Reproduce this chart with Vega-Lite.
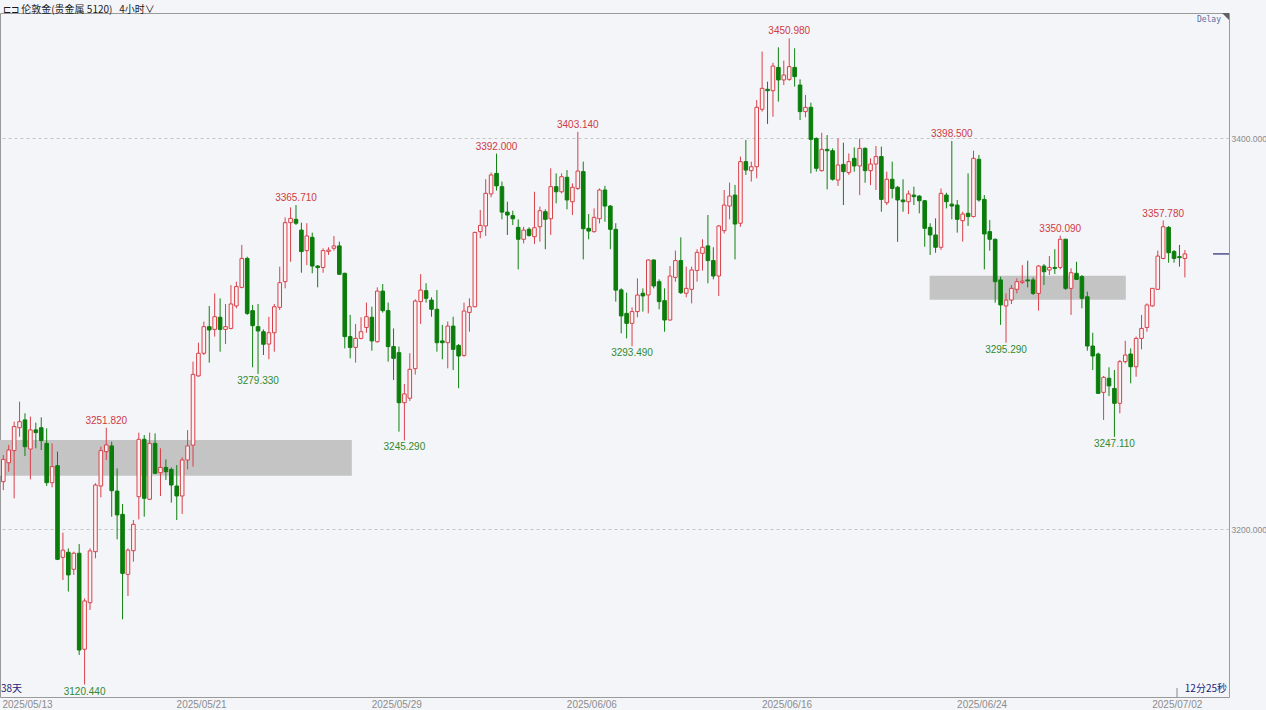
{
  "$schema": "https://vega.github.io/schema/vega-lite/v6.json",
  "width": 1229,
  "height": 684,
  "autosize": {"type": "none"},
  "padding": {"left": 0, "top": 13, "right": 37, "bottom": 13},
  "background": "#f4f5f9",
  "config": {
    "view": {"stroke": "#9a9a9a", "strokeWidth": 1, "fill": "#f4f5f9"},
    "font": "Liberation Sans"
  },
  "title": {
    "text": "⊏⊐ 伦敦金(贵金属 5120)\u00a0\u00a0\u00a04小时∨",
    "anchor": "start",
    "frame": "group",
    "orient": "top",
    "offset": 0,
    "dx": 3,
    "dy": 1.5,
    "font": "Noto Sans CJK SC",
    "fontSize": 10,
    "fontWeight": "normal",
    "color": "#1a1a1a"
  },
  "datasets": {
    "zones": [
      {"x1": -0.609, "x2": 64.3, "top": 3245.5, "bot": 3227.3},
      {"x1": 170.9, "x2": 207.1, "top": 3329.5, "bot": 3317.3}
    ],
    "k": [
      {"i":0,"o":3224.2,"h":3237.8,"l":3219.9,"c":3235.6},
      {"i":1,"o":3233.9,"h":3243.0,"l":3229.3,"c":3240.4},
      {"i":2,"o":3240.1,"h":3254.9,"l":3215.7,"c":3252.4},
      {"i":3,"o":3251.8,"h":3265.1,"l":3247.2,"c":3254.9},
      {"i":4,"o":3255.8,"h":3259.2,"l":3237.3,"c":3242.1},
      {"i":5,"o":3240.9,"h":3257.5,"l":3225.4,"c":3250.7},
      {"i":6,"o":3250.7,"h":3254.4,"l":3241.3,"c":3249.3},
      {"i":7,"o":3251.8,"h":3257.1,"l":3240.4,"c":3245.2},
      {"i":8,"o":3243.8,"h":3251.5,"l":3222.0,"c":3223.7},
      {"i":9,"o":3223.7,"h":3243.8,"l":3221.3,"c":3231.9},
      {"i":10,"o":3232.4,"h":3239.6,"l":3184.1,"c":3184.5},
      {"i":11,"o":3185.5,"h":3198.1,"l":3173.9,"c":3189.2},
      {"i":12,"o":3188.1,"h":3190.1,"l":3168.0,"c":3176.5},
      {"i":13,"o":3179.4,"h":3188.4,"l":3176.5,"c":3187.6},
      {"i":14,"o":3187.6,"h":3192.3,"l":3135.6,"c":3138.1},
      {"i":15,"o":3138.5,"h":3164.5,"l":3120.44,"c":3163.2,"pk":"l"},
      {"i":16,"o":3162.3,"h":3190.1,"l":3158.6,"c":3188.8},
      {"i":17,"o":3188.4,"h":3223.4,"l":3185.0,"c":3222.5},
      {"i":18,"o":3222.0,"h":3242.1,"l":3216.2,"c":3240.1},
      {"i":19,"o":3239.6,"h":3251.82,"l":3235.3,"c":3243.0,"pk":"h"},
      {"i":20,"o":3242.5,"h":3244.7,"l":3206.3,"c":3219.6},
      {"i":21,"o":3219.4,"h":3231.0,"l":3194.7,"c":3207.2},
      {"i":22,"o":3207.5,"h":3212.8,"l":3153.8,"c":3177.3},
      {"i":23,"o":3176.8,"h":3190.1,"l":3165.7,"c":3189.2},
      {"i":24,"o":3188.9,"h":3204.6,"l":3183.3,"c":3202.4},
      {"i":25,"o":3216.5,"h":3249.3,"l":3204.9,"c":3245.9},
      {"i":26,"o":3245.9,"h":3248.1,"l":3206.3,"c":3215.7},
      {"i":27,"o":3215.2,"h":3249.3,"l":3214.8,"c":3243.8},
      {"i":28,"o":3243.8,"h":3248.9,"l":3228.1,"c":3228.5},
      {"i":29,"o":3228.8,"h":3241.3,"l":3216.9,"c":3231.5},
      {"i":30,"o":3231.5,"h":3235.6,"l":3225.1,"c":3229.3},
      {"i":31,"o":3230.5,"h":3231.5,"l":3213.5,"c":3222.5},
      {"i":32,"o":3222.0,"h":3232.7,"l":3204.6,"c":3216.9},
      {"i":33,"o":3216.9,"h":3236.7,"l":3207.7,"c":3235.3},
      {"i":34,"o":3235.3,"h":3250.6,"l":3230.5,"c":3242.5},
      {"i":35,"o":3242.9,"h":3285.6,"l":3231.9,"c":3279.1},
      {"i":36,"o":3278.3,"h":3295.3,"l":3277.9,"c":3289.9},
      {"i":37,"o":3289.9,"h":3306.1,"l":3289.0,"c":3303.5},
      {"i":38,"o":3303.5,"h":3314.1,"l":3285.1,"c":3301.8},
      {"i":39,"o":3302.1,"h":3320.5,"l":3298.4,"c":3308.6},
      {"i":40,"o":3308.3,"h":3318.0,"l":3290.7,"c":3302.1},
      {"i":41,"o":3302.1,"h":3315.1,"l":3294.6,"c":3303.5},
      {"i":42,"o":3302.6,"h":3324.8,"l":3302.1,"c":3315.1},
      {"i":43,"o":3314.1,"h":3326.5,"l":3312.9,"c":3324.0},
      {"i":44,"o":3323.6,"h":3345.3,"l":3323.1,"c":3338.4},
      {"i":45,"o":3338.4,"h":3339.3,"l":3309.5,"c":3310.3},
      {"i":46,"o":3311.7,"h":3314.6,"l":3282.7,"c":3304.0},
      {"i":47,"o":3303.5,"h":3315.1,"l":3279.33,"c":3301.3,"pk":"l"},
      {"i":48,"o":3300.9,"h":3302.1,"l":3289.0,"c":3294.5},
      {"i":49,"o":3294.6,"h":3308.6,"l":3286.8,"c":3300.4},
      {"i":50,"o":3300.4,"h":3315.1,"l":3290.7,"c":3313.7},
      {"i":51,"o":3313.4,"h":3334.2,"l":3312.0,"c":3326.0},
      {"i":52,"o":3326.5,"h":3359.4,"l":3323.1,"c":3356.7},
      {"i":53,"o":3356.7,"h":3364.5,"l":3336.7,"c":3358.9},
      {"i":54,"o":3358.4,"h":3365.71,"l":3355.5,"c":3356.4,"pk":"h"},
      {"i":55,"o":3352.9,"h":3356.7,"l":3331.1,"c":3341.9},
      {"i":56,"o":3342.4,"h":3356.4,"l":3335.0,"c":3349.9},
      {"i":57,"o":3349.2,"h":3351.6,"l":3330.8,"c":3334.5},
      {"i":58,"o":3334.5,"h":3335.0,"l":3323.6,"c":3333.7},
      {"i":59,"o":3333.8,"h":3343.6,"l":3331.1,"c":3342.4},
      {"i":60,"o":3342.0,"h":3344.1,"l":3340.2,"c":3342.7},
      {"i":61,"o":3343.6,"h":3349.9,"l":3342.4,"c":3344.8},
      {"i":62,"o":3344.8,"h":3347.0,"l":3329.9,"c":3330.3},
      {"i":63,"o":3330.8,"h":3331.1,"l":3292.4,"c":3298.4},
      {"i":64,"o":3298.4,"h":3309.5,"l":3287.3,"c":3292.9},
      {"i":65,"o":3292.9,"h":3304.9,"l":3285.1,"c":3297.5},
      {"i":66,"o":3297.5,"h":3308.3,"l":3297.0,"c":3300.9},
      {"i":67,"o":3303.1,"h":3315.8,"l":3300.4,"c":3308.6},
      {"i":68,"o":3308.3,"h":3313.7,"l":3291.2,"c":3296.2},
      {"i":69,"o":3295.8,"h":3323.6,"l":3295.3,"c":3321.7},
      {"i":70,"o":3321.7,"h":3325.3,"l":3310.7,"c":3311.7},
      {"i":71,"o":3311.7,"h":3315.8,"l":3285.6,"c":3293.3},
      {"i":72,"o":3293.3,"h":3302.6,"l":3276.2,"c":3287.3},
      {"i":73,"o":3290.2,"h":3293.3,"l":3249.8,"c":3264.6},
      {"i":74,"o":3264.6,"h":3274.2,"l":3245.29,"c":3269.1,"pk":"l"},
      {"i":75,"o":3266.9,"h":3289.9,"l":3265.5,"c":3281.7},
      {"i":76,"o":3282.0,"h":3317.5,"l":3279.0,"c":3316.6},
      {"i":77,"o":3316.3,"h":3330.4,"l":3304.9,"c":3322.2},
      {"i":78,"o":3321.9,"h":3325.7,"l":3315.8,"c":3318.0},
      {"i":79,"o":3317.1,"h":3318.5,"l":3308.6,"c":3312.4},
      {"i":80,"o":3312.4,"h":3322.2,"l":3290.7,"c":3295.3},
      {"i":81,"o":3296.2,"h":3304.4,"l":3286.8,"c":3295.3},
      {"i":82,"o":3295.3,"h":3306.1,"l":3282.2,"c":3303.8},
      {"i":83,"o":3303.8,"h":3308.6,"l":3281.3,"c":3291.9},
      {"i":84,"o":3293.9,"h":3294.6,"l":3272.0,"c":3288.5},
      {"i":85,"o":3288.8,"h":3315.8,"l":3288.1,"c":3311.5},
      {"i":86,"o":3310.8,"h":3318.0,"l":3300.9,"c":3313.7},
      {"i":87,"o":3313.7,"h":3352.1,"l":3313.4,"c":3351.7},
      {"i":88,"o":3352.1,"h":3363.2,"l":3348.7,"c":3355.3},
      {"i":89,"o":3355.0,"h":3378.9,"l":3349.9,"c":3371.7},
      {"i":90,"o":3371.4,"h":3382.3,"l":3369.7,"c":3381.1},
      {"i":91,"o":3381.9,"h":3392.0,"l":3373.1,"c":3375.5,"pk":"h"},
      {"i":92,"o":3375.1,"h":3377.7,"l":3358.4,"c":3362.1},
      {"i":93,"o":3362.1,"h":3367.4,"l":3350.4,"c":3360.6},
      {"i":94,"o":3360.3,"h":3362.8,"l":3355.5,"c":3358.7},
      {"i":95,"o":3354.3,"h":3358.4,"l":3332.8,"c":3348.2},
      {"i":96,"o":3348.2,"h":3354.6,"l":3346.1,"c":3352.9},
      {"i":97,"o":3353.3,"h":3354.3,"l":3349.5,"c":3350.2},
      {"i":98,"o":3349.5,"h":3372.5,"l":3345.8,"c":3354.1},
      {"i":99,"o":3354.6,"h":3364.9,"l":3347.0,"c":3362.8},
      {"i":100,"o":3362.3,"h":3363.5,"l":3343.1,"c":3358.4},
      {"i":101,"o":3358.7,"h":3384.5,"l":3350.4,"c":3375.1},
      {"i":102,"o":3375.1,"h":3381.9,"l":3366.6,"c":3372.5},
      {"i":103,"o":3372.5,"h":3381.9,"l":3371.7,"c":3380.2},
      {"i":104,"o":3379.9,"h":3383.6,"l":3363.5,"c":3368.3},
      {"i":105,"o":3367.4,"h":3376.8,"l":3360.6,"c":3374.8},
      {"i":106,"o":3374.2,"h":3403.14,"l":3373.4,"c":3383.1,"pk":"h"},
      {"i":107,"o":3382.8,"h":3387.9,"l":3337.9,"c":3353.6},
      {"i":108,"o":3353.8,"h":3361.1,"l":3348.2,"c":3352.4},
      {"i":109,"o":3352.1,"h":3364.0,"l":3351.6,"c":3359.4},
      {"i":110,"o":3358.7,"h":3374.2,"l":3356.3,"c":3373.4},
      {"i":111,"o":3373.4,"h":3375.5,"l":3357.2,"c":3365.2},
      {"i":112,"o":3365.2,"h":3365.7,"l":3343.1,"c":3353.3},
      {"i":113,"o":3353.3,"h":3356.4,"l":3316.3,"c":3322.2},
      {"i":114,"o":3322.3,"h":3323.1,"l":3300.1,"c":3309.0},
      {"i":115,"o":3310.3,"h":3320.9,"l":3297.5,"c":3305.2},
      {"i":116,"o":3305.2,"h":3313.4,"l":3293.49,"c":3311.2,"pk":"l"},
      {"i":117,"o":3311.2,"h":3328.2,"l":3308.3,"c":3319.7},
      {"i":118,"o":3320.6,"h":3323.1,"l":3311.2,"c":3319.2},
      {"i":119,"o":3319.7,"h":3337.9,"l":3310.3,"c":3337.6},
      {"i":120,"o":3337.6,"h":3337.9,"l":3323.1,"c":3324.3},
      {"i":121,"o":3326.5,"h":3327.7,"l":3312.4,"c":3316.3},
      {"i":122,"o":3316.8,"h":3323.1,"l":3300.9,"c":3306.9},
      {"i":123,"o":3306.9,"h":3334.5,"l":3306.6,"c":3329.4},
      {"i":124,"o":3328.7,"h":3342.4,"l":3326.5,"c":3337.3},
      {"i":125,"o":3337.3,"h":3349.2,"l":3320.2,"c":3320.9},
      {"i":126,"o":3320.6,"h":3334.2,"l":3318.5,"c":3323.1},
      {"i":127,"o":3322.6,"h":3334.2,"l":3315.4,"c":3332.5},
      {"i":128,"o":3332.2,"h":3343.1,"l":3326.5,"c":3341.5},
      {"i":129,"o":3341.0,"h":3348.2,"l":3332.2,"c":3344.1},
      {"i":130,"o":3344.8,"h":3360.6,"l":3325.7,"c":3337.3},
      {"i":131,"o":3337.3,"h":3344.1,"l":3327.7,"c":3329.4},
      {"i":132,"o":3329.4,"h":3355.5,"l":3319.2,"c":3355.0},
      {"i":133,"o":3352.6,"h":3373.4,"l":3351.2,"c":3365.7},
      {"i":134,"o":3365.2,"h":3377.2,"l":3358.4,"c":3370.3},
      {"i":135,"o":3370.8,"h":3376.0,"l":3337.9,"c":3356.0},
      {"i":136,"o":3356.4,"h":3390.5,"l":3354.6,"c":3387.9},
      {"i":137,"o":3387.9,"h":3399.0,"l":3381.1,"c":3383.6},
      {"i":138,"o":3383.3,"h":3387.9,"l":3377.7,"c":3385.3},
      {"i":139,"o":3385.3,"h":3419.4,"l":3379.4,"c":3415.7},
      {"i":140,"o":3414.7,"h":3444.2,"l":3413.5,"c":3425.4},
      {"i":141,"o":3424.9,"h":3428.8,"l":3407.2,"c":3424.2},
      {"i":142,"o":3424.2,"h":3438.5,"l":3410.9,"c":3436.8},
      {"i":143,"o":3436.1,"h":3446.4,"l":3418.6,"c":3429.7},
      {"i":144,"o":3429.7,"h":3439.6,"l":3427.1,"c":3432.2},
      {"i":145,"o":3430.0,"h":3450.98,"l":3429.3,"c":3436.5,"pk":"h"},
      {"i":146,"o":3436.1,"h":3445.9,"l":3426.3,"c":3431.4},
      {"i":147,"o":3427.1,"h":3430.0,"l":3409.2,"c":3413.5},
      {"i":148,"o":3413.5,"h":3422.0,"l":3410.6,"c":3415.7},
      {"i":149,"o":3415.7,"h":3418.1,"l":3381.9,"c":3399.3},
      {"i":150,"o":3399.8,"h":3400.3,"l":3382.8,"c":3384.5},
      {"i":151,"o":3383.3,"h":3402.7,"l":3382.8,"c":3394.2},
      {"i":152,"o":3394.2,"h":3401.5,"l":3373.7,"c":3393.5},
      {"i":153,"o":3393.5,"h":3394.7,"l":3378.2,"c":3378.9},
      {"i":154,"o":3378.5,"h":3399.8,"l":3375.5,"c":3386.2},
      {"i":155,"o":3386.5,"h":3397.6,"l":3365.7,"c":3382.8},
      {"i":156,"o":3382.3,"h":3392.1,"l":3381.1,"c":3387.9},
      {"i":157,"o":3389.6,"h":3395.2,"l":3382.8,"c":3385.7},
      {"i":158,"o":3385.7,"h":3399.8,"l":3370.8,"c":3394.7},
      {"i":159,"o":3394.7,"h":3395.2,"l":3377.1,"c":3383.3},
      {"i":160,"o":3383.3,"h":3389.6,"l":3375.9,"c":3386.7},
      {"i":161,"o":3386.7,"h":3395.9,"l":3373.4,"c":3390.5},
      {"i":162,"o":3390.5,"h":3395.6,"l":3362.3,"c":3368.6},
      {"i":163,"o":3366.9,"h":3382.8,"l":3365.7,"c":3378.9},
      {"i":164,"o":3378.9,"h":3387.9,"l":3369.1,"c":3374.2},
      {"i":165,"o":3374.8,"h":3375.5,"l":3346.9,"c":3368.3},
      {"i":166,"o":3368.3,"h":3378.9,"l":3362.3,"c":3367.4},
      {"i":167,"o":3367.4,"h":3373.1,"l":3361.1,"c":3371.4},
      {"i":168,"o":3370.8,"h":3375.1,"l":3365.7,"c":3370.0},
      {"i":169,"o":3370.3,"h":3370.8,"l":3361.5,"c":3367.9},
      {"i":170,"o":3367.9,"h":3368.3,"l":3344.4,"c":3353.8},
      {"i":171,"o":3354.3,"h":3356.4,"l":3340.2,"c":3350.4},
      {"i":172,"o":3350.4,"h":3358.9,"l":3341.3,"c":3344.1},
      {"i":173,"o":3344.1,"h":3374.2,"l":3342.7,"c":3371.7},
      {"i":174,"o":3370.8,"h":3372.0,"l":3364.0,"c":3367.4},
      {"i":175,"o":3366.2,"h":3398.5,"l":3358.4,"c":3365.2,"pk":"h"},
      {"i":176,"o":3365.7,"h":3368.3,"l":3351.6,"c":3358.4},
      {"i":177,"o":3357.7,"h":3362.3,"l":3347.0,"c":3361.1},
      {"i":178,"o":3361.5,"h":3381.9,"l":3355.0,"c":3359.8},
      {"i":179,"o":3359.8,"h":3393.5,"l":3359.4,"c":3389.6},
      {"i":180,"o":3389.1,"h":3391.3,"l":3367.4,"c":3368.3},
      {"i":181,"o":3368.6,"h":3370.8,"l":3332.8,"c":3350.9},
      {"i":182,"o":3352.1,"h":3358.0,"l":3342.4,"c":3348.2},
      {"i":183,"o":3348.2,"h":3348.6,"l":3315.8,"c":3326.5},
      {"i":184,"o":3327.4,"h":3329.1,"l":3304.4,"c":3314.6},
      {"i":185,"o":3314.1,"h":3320.5,"l":3295.29,"c":3317.1,"pk":"l"},
      {"i":186,"o":3317.1,"h":3324.8,"l":3315.1,"c":3323.1},
      {"i":187,"o":3322.6,"h":3328.2,"l":3320.5,"c":3326.5},
      {"i":188,"o":3326.2,"h":3335.0,"l":3325.3,"c":3326.8},
      {"i":189,"o":3327.4,"h":3337.2,"l":3323.6,"c":3326.9},
      {"i":190,"o":3327.4,"h":3328.7,"l":3319.7,"c":3320.5},
      {"i":191,"o":3320.5,"h":3335.0,"l":3311.7,"c":3334.5},
      {"i":192,"o":3334.5,"h":3335.5,"l":3324.8,"c":3331.6},
      {"i":193,"o":3332.5,"h":3339.6,"l":3329.9,"c":3333.8},
      {"i":194,"o":3333.8,"h":3343.1,"l":3330.4,"c":3333.3},
      {"i":195,"o":3333.8,"h":3350.09,"l":3332.8,"c":3348.2,"pk":"h"},
      {"i":196,"o":3348.2,"h":3348.5,"l":3322.3,"c":3323.1},
      {"i":197,"o":3323.1,"h":3333.3,"l":3309.5,"c":3331.1},
      {"i":198,"o":3330.8,"h":3336.7,"l":3327.4,"c":3327.7},
      {"i":199,"o":3329.1,"h":3329.9,"l":3312.9,"c":3318.0},
      {"i":200,"o":3318.8,"h":3321.4,"l":3291.2,"c":3293.6},
      {"i":201,"o":3293.6,"h":3300.4,"l":3281.3,"c":3288.5},
      {"i":202,"o":3289.5,"h":3290.2,"l":3269.1,"c":3269.4},
      {"i":203,"o":3269.9,"h":3278.3,"l":3255.8,"c":3277.6},
      {"i":204,"o":3277.1,"h":3282.7,"l":3268.0,"c":3273.2},
      {"i":205,"o":3271.9,"h":3281.3,"l":3247.11,"c":3264.3,"pk":"l"},
      {"i":206,"o":3264.3,"h":3286.4,"l":3259.2,"c":3285.6},
      {"i":207,"o":3285.6,"h":3296.3,"l":3284.7,"c":3289.0},
      {"i":208,"o":3289.5,"h":3292.4,"l":3274.5,"c":3283.0},
      {"i":209,"o":3283.0,"h":3298.4,"l":3277.9,"c":3297.5},
      {"i":210,"o":3297.5,"h":3309.5,"l":3291.9,"c":3302.6},
      {"i":211,"o":3303.1,"h":3315.4,"l":3300.9,"c":3314.6},
      {"i":212,"o":3314.1,"h":3323.1,"l":3313.7,"c":3323.1},
      {"i":213,"o":3322.6,"h":3342.4,"l":3322.3,"c":3339.6},
      {"i":214,"o":3338.4,"h":3357.78,"l":3337.9,"c":3354.6,"pk":"h"},
      {"i":215,"o":3354.3,"h":3355.0,"l":3336.2,"c":3341.3},
      {"i":216,"o":3341.9,"h":3342.7,"l":3336.2,"c":3338.4},
      {"i":217,"o":3339.3,"h":3345.3,"l":3334.2,"c":3338.8},
      {"i":218,"o":3338.4,"h":3342.7,"l":3328.7,"c":3340.7}
    ]
  },
  "layer": [
    {
      "data": {"name": "zones"},
      "mark": {"type": "rect", "color": "#c4c4c4", "clip": true},
      "encoding": {
        "x": {
          "field": "x1",
          "type": "quantitative",
          "scale": {"domain": [-0.609, 226.14], "nice": false, "zero": false, "padding": 0},
          "axis": {
            "values": [4.37, 36.5, 72.5, 108.5, 144.5, 180.5, 216.5],
            "labelExpr": "datum.value < 20 ? '2025/05/13' : datum.value < 50 ? '2025/05/21' : datum.value < 90 ? '2025/05/29' : datum.value < 120 ? '2025/06/06' : datum.value < 160 ? '2025/06/16' : datum.value < 200 ? '2025/06/24' : '2025/07/02'",
            "grid": false,
            "ticks": false,
            "domain": false,
            "labelFontSize": 10,
            "labelColor": "#8c8c8c",
            "labelPadding": 2,
            "labelOverlap": false,
            "labelFlush": false,
            "labelBound": false,
            "title": null
          }
        },
        "x2": {"field": "x2"},
        "y": {
          "field": "top",
          "type": "quantitative",
          "scale": {"domain": [3114.07, 3463.94], "nice": false, "zero": false, "padding": 0},
          "axis": {
            "orient": "right",
            "values": [3200, 3400],
            "format": ".3f",
            "grid": true,
            "gridDash": [3, 3],
            "gridColor": "#c4c4c4",
            "ticks": false,
            "domain": false,
            "labelFontSize": 8.5,
            "labelColor": "#8a8a8a",
            "labelPadding": 2,
            "title": null
          }
        },
        "y2": {"field": "bot"}
      }
    },
    {
      "data": {"name": "k"},
      "mark": {"type": "rule", "strokeWidth": 1},
      "encoding": {
        "x": {"field": "i", "type": "quantitative", "title": null},
        "y": {"field": "l", "type": "quantitative", "title": null},
        "y2": {"field": "h"},
        "color": {"condition": {"test": "datum.c >= datum.o", "value": "#d8404a"}, "value": "#10800f"}
      }
    },
    {
      "data": {"name": "k"},
      "mark": {"type": "bar", "width": 3.6, "strokeWidth": 1},
      "encoding": {
        "x": {"field": "i", "type": "quantitative", "title": null},
        "y": {"field": "o", "type": "quantitative", "title": null},
        "y2": {"field": "c"},
        "fill": {"condition": {"test": "datum.c >= datum.o", "value": "#fff4f4"}, "value": "#0b7d0b"},
        "stroke": {"condition": {"test": "datum.c >= datum.o", "value": "#d8404a"}, "value": "#0b7d0b"}
      }
    },
    {
      "data": {"name": "k"},
      "transform": [{"filter": "datum.pk == 'h'"}],
      "mark": {"type": "text", "dy": -7, "fontSize": 10, "color": "#cf3a44", "baseline": "middle"},
      "encoding": {
        "x": {"field": "i", "type": "quantitative", "title": null},
        "y": {"field": "h", "type": "quantitative", "title": null},
        "text": {"field": "h", "type": "quantitative", "format": ".3f"}
      }
    },
    {
      "data": {"name": "k"},
      "transform": [{"filter": "datum.pk == 'l'"}],
      "mark": {"type": "text", "dy": 7, "fontSize": 10, "color": "#2f8a2f", "baseline": "middle"},
      "encoding": {
        "x": {"field": "i", "type": "quantitative", "title": null},
        "y": {"field": "l", "type": "quantitative", "title": null},
        "text": {"field": "l", "type": "quantitative", "format": ".3f"}
      }
    },
    {
      "data": {"name": "k"},
      "transform": [{"filter": "datum.i == 218"}],
      "mark": {"type": "rule", "color": "#23236e", "strokeWidth": 1.2},
      "encoding": {
        "x": {"datum": 223.2},
        "x2": {"datum": 226.14},
        "y": {"field": "c", "type": "quantitative", "title": null}
      }
    },
    {
      "data": {"values": [{}]},
      "mark": {"type": "rule", "color": "#8a8a8a"},
      "encoding": {
        "x": {"datum": 216.55},
        "y": {"datum": 3114.07},
        "y2": {"datum": 3118.7}
      }
    },
    {
      "data": {"values": [{}]},
      "mark": {"type": "text", "text": "Delay", "align": "right", "baseline": "middle", "dx": -8, "fontSize": 8, "font": "DejaVu Sans Mono", "color": "#5b6b9b"},
      "encoding": {"x": {"datum": 226.14}, "y": {"datum": 3460.36}}
    },
    {
      "data": {"values": [{}]},
      "mark": {"type": "point", "shape": "M -2 0 L 0 0 L 0 2 Z", "size": 49, "filled": true, "color": "#606060", "opacity": 1, "strokeWidth": 0},
      "encoding": {"x": {"datum": 226.14}, "y": {"datum": 3463.94}}
    },
    {
      "data": {"values": [{}]},
      "mark": {"type": "text", "text": "38天", "align": "left", "baseline": "middle", "dx": 1, "fontSize": 10, "font": "Noto Sans CJK SC", "color": "#1c1c7a"},
      "encoding": {"x": {"datum": -0.609}, "y": {"datum": 3118.17}}
    },
    {
      "data": {"values": [{}]},
      "mark": {"type": "text", "text": "12分25秒", "align": "right", "baseline": "middle", "dx": -2, "fontSize": 10, "font": "Noto Sans CJK SC", "color": "#1c1c7a"},
      "encoding": {"x": {"datum": 226.14}, "y": {"datum": 3118.17}}
    }
  ]
}
